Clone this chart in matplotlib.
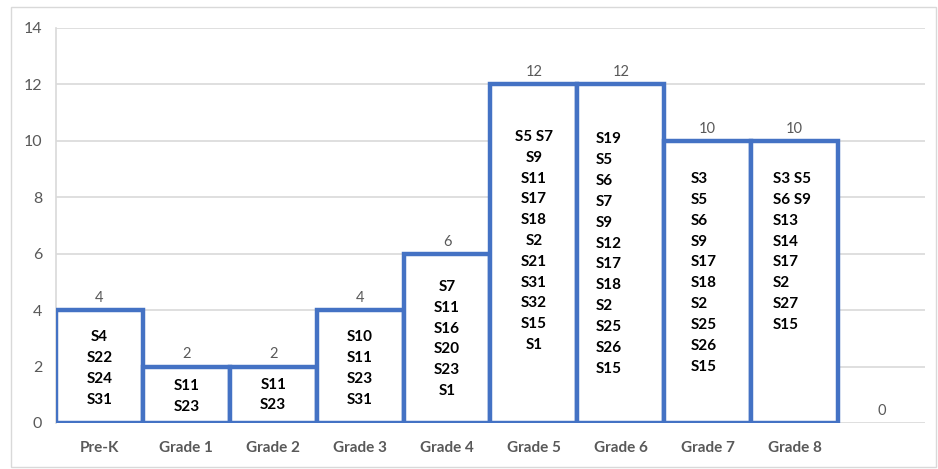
import matplotlib.pyplot as plt
from matplotlib.patches import Rectangle

grades = ["Pre-K", "Grade 1", "Grade 2", "Grade 3", "Grade 4",
          "Grade 5", "Grade 6", "Grade 7", "Grade 8", ""]
counts = [4, 2, 2, 4, 6, 12, 12, 10, 10, 0]

students = [
    ["S4", "S22", "S24", "S31"],
    ["S11", "S23"],
    ["S11", "S23"],
    ["S10", "S11", "S23", "S31"],
    ["S7", "S11", "S16", "S20", "S23", "S1"],
    ["S5 S7", "S9", "S11", "S17", "S18", "S2", "S21", "S31", "S32", "S15", "S1"],
    ["S19", "S5", "S6", "S7", "S9", "S12", "S17", "S18", "S2", "S25", "S26", "S15"],
    ["S3", "S5", "S6", "S9", "S17", "S18", "S2", "S25", "S26", "S15"],
    ["S3 S5", "S6 S9", "S13", "S14", "S17", "S2", "S27", "S15"],
    [],
]

# where each name block sits: vertical centre (data units), x shift (bar widths), alignment
block_y = [1.93, 0.94, 0.99, 1.93, 2.98, 6.45, 5.99, 5.32, 6.06, 0]
block_dx = [0, 0, 0, 0, 0, 0, -0.29, -0.20, -0.25, 0]
block_align = ["center"] * 6 + ["left"] * 3 + ["center"]

blue = "#4472C4"
grey = "#595959"
plt.rcParams["font.family"] = ["Lato", "DejaVu Sans"]

fig = plt.figure(figsize=(9.38, 4.69), dpi=100)
ax = fig.add_axes([0.0597, 0.0981, 0.9264, 0.8422])

fig.patches.append(Rectangle((11 / 938, 2 / 469), 925 / 938, 460 / 469,
                             transform=fig.transFigure, fill=False,
                             edgecolor="#D9D9D9", linewidth=1))

x = list(range(len(grades)))
for i, v in enumerate(counts):
    if v > 0:
        ax.bar(i, v, width=1.0, facecolor="white", edgecolor=blue,
               linewidth=3.2, zorder=3)
    ax.text(i, v + 0.18, str(v), ha="center", va="bottom",
            fontsize=10.5, color=grey, zorder=4)
    if students[i]:
        ax.text(i + block_dx[i], block_y[i], "\n".join(students[i]),
                ha=block_align[i], va="center", multialignment=block_align[i],
                fontsize=11, fontweight="bold", color="black",
                linespacing=1.62, zorder=4)

ax.set_xlim(-0.5, len(grades) - 0.5)
ax.set_ylim(0, 14)
ax.set_yticks(range(0, 15, 2))
ax.set_xticks(x)
ax.set_xticklabels(grades, fontweight="bold", fontsize=11, color=grey)
ax.tick_params(axis="y", labelsize=11.5, labelcolor=grey, length=0, pad=10)
ax.tick_params(axis="x", length=0, pad=13)
ax.grid(axis="y", color="#D9D9D9", linewidth=1.2, zorder=0)
for side in ["top", "right", "bottom"]:
    ax.spines[side].set_visible(False)
ax.spines["left"].set_color("#D9D9D9")
ax.spines["left"].set_linewidth(1.2)

fig.savefig("out.png", dpi=100)
